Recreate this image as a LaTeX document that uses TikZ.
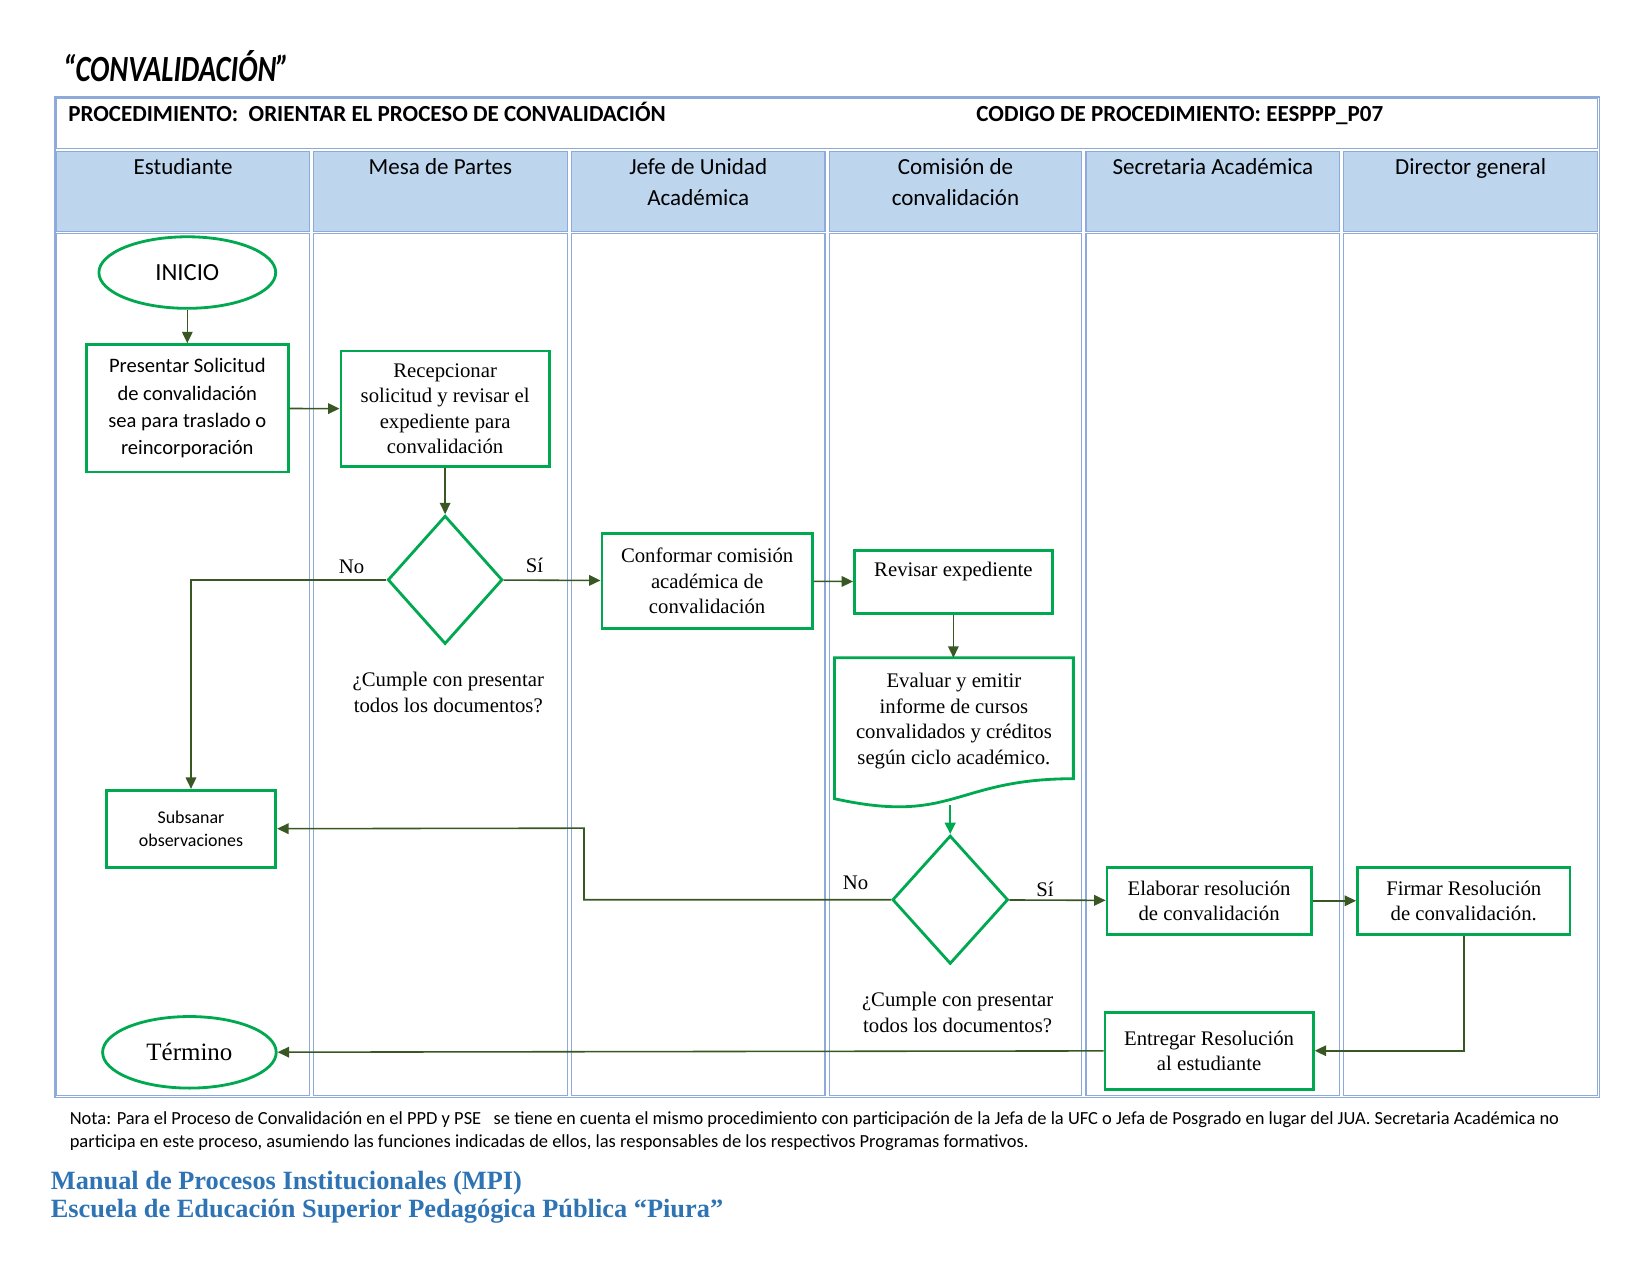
\documentclass[tikz,border=0pt]{standalone}
\usepackage{fontspec}
\usepackage{graphicx}
\setmainfont{Liberation Serif}
\newfontfamily\calibri{Carlito}
\usetikzlibrary{arrows.meta, shapes.geometric, positioning}
\definecolor{boxgreen}{RGB}{0,168,80}
\definecolor{arrowgreen}{RGB}{56,87,35}
\definecolor{gridblue}{RGB}{142,170,219}
\definecolor{headblue}{RGB}{189,214,238}
\definecolor{footblue}{RGB}{46,116,181}
\tikzset{>={Triangle[length=6.5pt,width=6pt]}}
\def\px{0.021046cm}
\tikzset{
  stepbox/.style={draw=boxgreen, fill=white, line width=1.6pt, align=center, inner sep=2pt,
    font=\fontsize{11.8}{14.5}\selectfont},
  sansbox/.style={stepbox, font=\calibri\fontsize{11.7}{15.5}\selectfont},
  decision/.style={diamond, draw=boxgreen, fill=white, line width=1.6pt, inner sep=0pt},
  terminal/.style={ellipse, draw=boxgreen, fill=white, line width=1.6pt},
  flow/.style={->, draw=arrowgreen, line width=0.9pt},
  lanehead/.style={anchor=north, align=center, font=\calibri\fontsize{13.1}{17.3}\selectfont},
  lbl/.style={align=center, font=\fontsize{11.8}{14.5}\selectfont},
}

\begin{document}
\begin{tikzpicture}[x=\px, y=-\px]
  \useasboundingbox (0,0) rectangle (1568,1212);

  % title
  \node[anchor=west, font=\calibri\bfseries\itshape\fontsize{21}{23}\selectfont] (title) at (54,63)
    {\scalebox{0.78}[1]{“CONVALIDACIÓN”}};

  % table frame
  \draw[gridblue, line width=1pt] (52,92) rectangle (1520,1043);
  \draw[gridblue, line width=0.6pt] (54,94) rectangle (1518,141);
  \foreach \xa/\xb in {52/296,296/541,541/786,786/1030,1030/1275,1275/1520}{
    \draw[gridblue, line width=0.6pt, fill=headblue] (\xa+2,144) rectangle (\xb-2,220);
    \draw[gridblue, line width=0.6pt] (\xa+2,222) rectangle (\xb-2,1041);
  }

  \node[anchor=base west, font=\calibri\bfseries\fontsize{13.1}{15}\selectfont] (proc) at (59,115)
    {PROCEDIMIENTO:~~ORIENTAR EL PROCESO DE CONVALIDACIÓN};
  \node[anchor=base west, font=\calibri\bfseries\fontsize{13.1}{15}\selectfont] (codigo) at (922,115)
    {CODIGO DE PROCEDIMIENTO: EESPPP\_P07};

  % lanes
  \node[lanehead] (estudiante) at (174,145) {Estudiante};
  \node[lanehead] (mesa) at (418.5,145) {Mesa de Partes};
  \node[lanehead] (jefe) at (663.5,145) {Jefe de Unidad\\Académica};
  \node[lanehead] (comision) at (908,145) {Comisión de\\convalidación};
  \node[lanehead] (secretaria) at (1152.5,145) {Secretaria Académica};
  \node[lanehead] (director) at (1397.5,145) {Director general};

  % steps
  \node[terminal, font=\calibri\fontsize{14}{16}\selectfont, minimum width=168*\px, minimum height=68*\px]
    (inicio) at (178,259) {INICIO};
  \node[sansbox, minimum width=192*\px, minimum height=121*\px] (presentar) at (178,388)
    {Presentar Solicitud\\de convalidación\\sea para traslado o\\reincorporación};
  \node[stepbox, minimum width=198*\px, minimum height=110*\px] (recepcionar) at (423,388.5)
    {Recepcionar\\solicitud y revisar el\\expediente para\\convalidación};
  \node[decision, minimum width=109*\px, minimum height=122*\px] (cumple1) at (423,551) {};
  \node[lbl] (pregunta1) at (426,658) {¿Cumple con presentar\\todos los documentos?};
  \node[stepbox, minimum width=200*\px, minimum height=90*\px] (conformar) at (672,552)
    {Conformar comisión\\académica de\\convalidación};
  \node[stepbox, minimum width=188*\px, minimum height=60*\px] (revisar) at (906,553)
    {Revisar expediente\\\mbox{}};

  % document shape
  \draw[draw=boxgreen, fill=white, line width=1.6pt] (793,625) -- (1020,625) -- (1020,740)
    .. controls (906.5,740) and (906.5,784) .. (793,759) -- cycle;
  \node[lbl] (evaluar) at (906.5,685)
    {Evaluar y emitir\\informe de cursos\\convalidados y créditos\\según ciclo académico.};
  \coordinate (evaltop) at (906,625);
  \coordinate (evalbot) at (903,765);

  \node[sansbox, font=\calibri\fontsize{10.2}{13.1}\selectfont, minimum width=161*\px, minimum height=73*\px]
    (subsanar) at (181.5,787.5) {Subsanar\\observaciones};
  \node[decision, minimum width=110*\px, minimum height=122*\px] (cumple2) at (903,855) {};
  \node[lbl] (pregunta2) at (910,962) {¿Cumple con presentar\\todos los documentos?};
  \node[stepbox, minimum width=194*\px, minimum height=64*\px] (elaborar) at (1149,856)
    {Elaborar resolución\\de convalidación};
  \node[stepbox, minimum width=202*\px, minimum height=64*\px] (firmar) at (1391,856)
    {Firmar Resolución\\de convalidación.};
  \node[stepbox, minimum width=198*\px, minimum height=73*\px] (entregar) at (1149,998.5)
    {Entregar Resolución\\al estudiante};
  \node[terminal, font=\fontsize{14.2}{16}\selectfont, minimum width=165*\px, minimum height=68*\px]
    (termino) at (180,1000) {Término};

  % labels
  \node[lbl] (no1) at (334,539) {No};
  \node[lbl] (si1) at (508,537) {Sí};
  \node[lbl] (no2) at (813,839) {No};
  \node[lbl] (si2) at (993,845) {Sí};
  \coordinate (bendno) at (555,787);

  % connectors
  \draw[flow] (inicio) -- (presentar);
  \draw[flow] (presentar) -- (recepcionar);
  \draw[flow] (recepcionar) -- (cumple1);
  \draw[flow] (cumple1) -- (conformar);
  \draw[flow] (cumple1.west) -| (subsanar.north);
  \draw[flow] (conformar) -- (revisar);
  \draw[flow] (revisar) -- (evaltop);
  \draw[flow, draw=boxgreen, line width=1.4pt] (evalbot) -- (cumple2);
  \draw[flow] (cumple2.west) -| (bendno) -- (subsanar.east);
  \draw[flow] (cumple2) -- (elaborar);
  \draw[flow] (elaborar) -- (firmar);
  \draw[flow] (firmar.south) |- (entregar.east);
  \draw[flow] (entregar) -- (termino);

  % note and footer
  \node[anchor=north west, align=left, inner sep=0pt, font=\calibri\fontsize{10.5}{13.1}\selectfont]
    (nota) at (66,1056)
    {Nota: Para el Proceso de Convalidación en el PPD y PSE~~~se tiene en cuenta el mismo procedimiento con participación de la Jefa de la UFC o Jefa de Posgrado en lugar del JUA. Secretaria Académica no\\
     participa en este proceso, asumiendo las funciones indicadas de ellos, las responsables de los respectivos Programas formativos.};
  \node[anchor=north west, align=left, inner sep=0pt, text=footblue, font=\bfseries\fontsize{15}{15.5}\selectfont]
    (manual) at (48,1113)
    {Manual de Procesos Institucionales (MPI)\\Escuela de Educación Superior Pedagógica Pública “Piura”};
\end{tikzpicture}
\end{document}
